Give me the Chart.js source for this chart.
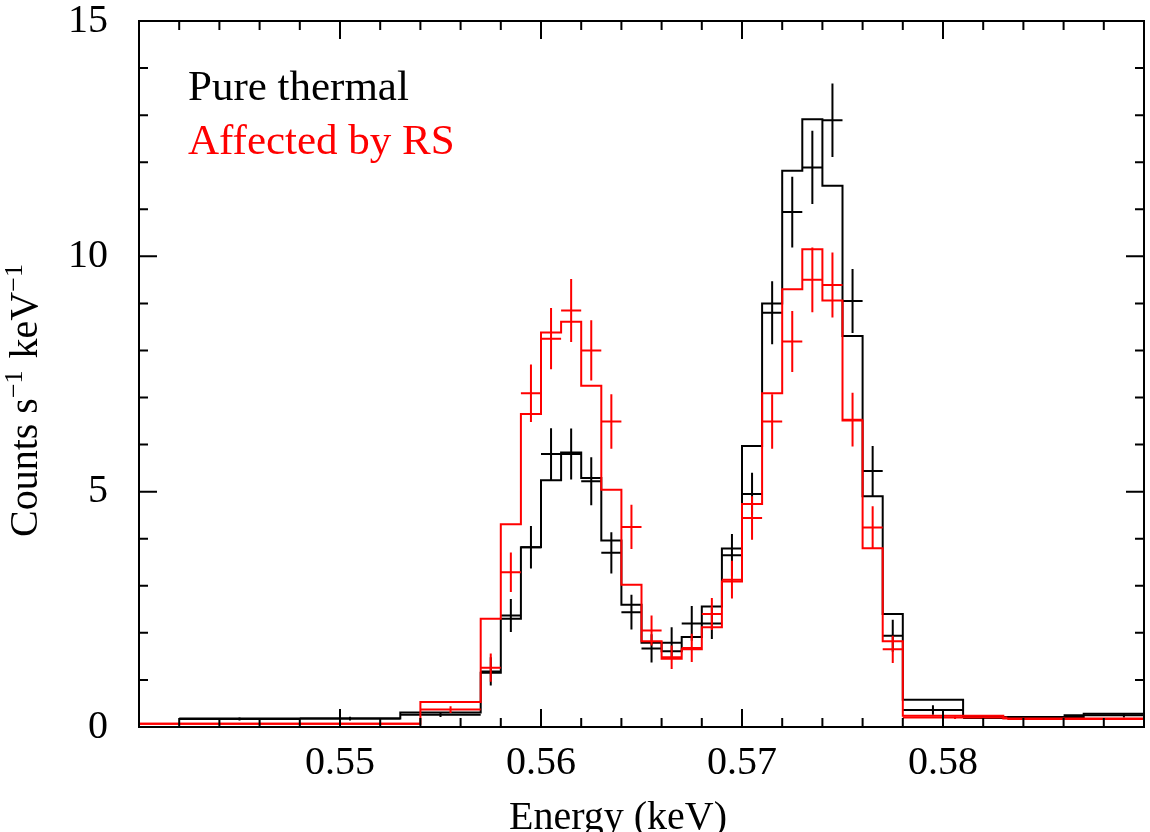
<!DOCTYPE html>
<html>
<head>
<meta charset="utf-8">
<title>Energy spectrum</title>
<script src="https://cdn.jsdelivr.net/npm/chart.js@4.4.1/dist/chart.umd.min.js"></script>
<style>
  html, body { margin: 0; padding: 0; background: #fff; }
  canvas { display: block; }
</style>
</head>
<body>
<canvas id="spectrum" width="1150" height="832"></canvas>
<script>
// model histograms: bin edges (keV) and model level in each bin
const thermalModelEdges = [0.542, 0.553, 0.557, 0.558, 0.559, 0.560, 0.561, 0.562, 0.563, 0.564, 0.565, 0.566, 0.567,
    0.568, 0.569, 0.570, 0.571, 0.572, 0.573, 0.574, 0.575, 0.576, 0.577, 0.578, 0.581, 0.587, 0.592];
const thermalModel = [0.18, 0.31, 1.15, 2.30, 3.82, 5.24, 5.83, 5.29, 3.96, 2.60, 1.79, 1.61, 1.91,
    2.56, 3.79, 5.97, 9.00, 11.82, 12.91, 11.50, 8.31, 4.90, 2.40, 0.58, 0.21, 0.28];

const rsModelEdges = [0.538, 0.554, 0.557, 0.558, 0.559, 0.560, 0.561, 0.562, 0.563, 0.564, 0.565, 0.566, 0.567,
    0.568, 0.569, 0.570, 0.571, 0.572, 0.573, 0.574, 0.575, 0.576, 0.577, 0.578, 0.583, 0.592];
const rsModel = [0.07, 0.53, 2.30, 4.31, 6.65, 8.38, 8.61, 7.25, 5.04, 3.02, 1.82, 1.45, 1.65,
    2.12, 3.09, 4.74, 7.09, 9.30, 10.15, 9.06, 6.51, 3.80, 1.82, 0.24, 0.18];

// data points: bin edges, counts and 1-sigma errors
const thermalDataEdges = [0.542, 0.548, 0.553, 0.557, 0.558, 0.559, 0.560, 0.561, 0.562, 0.563, 0.564, 0.565, 0.566,
    0.567, 0.568, 0.569, 0.570, 0.571, 0.572, 0.573, 0.574, 0.575, 0.576, 0.577, 0.578, 0.581, 0.586, 0.592];
const thermalCounts = [0.17, 0.18, 0.26, 1.18, 2.37, 3.82, 5.80, 5.80, 5.22, 3.70, 2.44, 1.67, 1.79,
    2.20, 2.20, 3.65, 4.95, 8.80, 10.94, 11.89, 12.89, 9.05, 5.44, 1.94, 0.36, 0.19, 0.25];
const thermalErr = [0.03, 0.04, 0.05, 0.30, 0.35, 0.45, 0.55, 0.54, 0.51, 0.44, 0.37, 0.30, 0.33,
    0.37, 0.33, 0.45, 0.45, 0.67, 0.75, 0.78, 0.78, 0.68, 0.53, 0.34, 0.10, 0.04, 0.05];

const rsDataEdges = [0.540, 0.554, 0.557, 0.558, 0.559, 0.560, 0.561, 0.562, 0.563, 0.564, 0.565, 0.566, 0.567,
    0.568, 0.569, 0.570, 0.571, 0.572, 0.573, 0.574, 0.575, 0.576, 0.577, 0.578, 0.5832, 0.592];
const rsCounts = [0.07, 0.37, 1.26, 3.29, 7.09, 8.25, 8.85, 8.00, 6.49, 4.25, 2.05, 1.48, 1.68,
    2.40, 3.13, 4.44, 6.49, 8.19, 9.50, 9.39, 6.53, 4.24, 1.65, 0.20, 0.17];
const rsErr = [0.02, 0.07, 0.30, 0.42, 0.61, 0.65, 0.67, 0.64, 0.58, 0.47, 0.32, 0.25, 0.30,
    0.34, 0.40, 0.46, 0.58, 0.65, 0.69, 0.69, 0.57, 0.45, 0.29, 0.03, 0.02];

const xLabels = [0.55, 0.56, 0.57, 0.58];
const yLabels = [0, 5, 10, 15];

const SERIF = "'Liberation Serif', 'DejaVu Serif', serif";
const RED = '#ff0000';
const BLACK = '#000000';

// histogram outline: one point per left edge, last edge closes the final bin
function stepPoints(edges, levels) {
    return edges.map((e, i) => ({ x: e, y: levels[Math.min(i, levels.length - 1)] }));
}

// error crosses: horizontal bin bar + vertical error bar, separated by gaps
function crossPoints(edges, counts, errs) {
    const pts = [];
    counts.forEach((v, i) => {
        const lo = edges[i], hi = edges[i + 1], mid = (lo + hi) / 2;
        pts.push({ x: lo, y: v }, { x: hi, y: v }, { x: mid, y: null });
        pts.push({ x: mid, y: v - errs[i] }, { x: mid, y: v + errs[i] }, { x: mid, y: null });
    });
    return pts;
}

// frame, inward ticks on all sides, legend text and axis titles
const framePlugin = {
    id: 'frame',
    afterDraw(chart) {
        const { ctx, chartArea: a, scales } = chart;
        const xs = scales.x, ys = scales.y;
        ctx.save();
        ctx.strokeStyle = BLACK;
        ctx.lineWidth = 2;
        ctx.strokeRect(a.left, a.top, a.right - a.left, a.bottom - a.top);

        ctx.beginPath();
        for (let k = 270; k <= 295; k++) {
            const v = k / 500;
            const px = xs.getPixelForValue(v);
            if (px <= a.left + 1 || px >= a.right - 1) continue;
            const len = k % 5 === 0 ? 18 : 9;
            ctx.moveTo(px, a.bottom); ctx.lineTo(px, a.bottom - len);
            ctx.moveTo(px, a.top); ctx.lineTo(px, a.top + len);
        }
        for (let v = 1; v < 15; v++) {
            const py = ys.getPixelForValue(v);
            const len = v % 5 === 0 ? 18 : 9;
            ctx.moveTo(a.left, py); ctx.lineTo(a.left + len, py);
            ctx.moveTo(a.right, py); ctx.lineTo(a.right - len, py);
        }
        ctx.stroke();

        // legend
        ctx.font = '43px ' + SERIF;
        ctx.textAlign = 'left';
        ctx.textBaseline = 'alphabetic';
        ctx.fillStyle = BLACK;
        ctx.fillText('Pure thermal', 188, 100);
        ctx.fillStyle = RED;
        ctx.fillText('Affected by RS', 188, 154);

        // x title
        ctx.fillStyle = BLACK;
        ctx.font = '40px ' + SERIF;
        ctx.textAlign = 'center';
        ctx.fillText('Energy (keV)', 618, 829);

        // y title with superscripts
        ctx.translate(37, 537);
        ctx.rotate(-Math.PI / 2);
        ctx.textAlign = 'left';
        const parts = [['Counts s', false], ['\u22121', true], [' keV', false], ['\u22121', true]];
        let pos = 0;
        parts.forEach(([txt, sup]) => {
            ctx.font = (sup ? '26px ' : '40px ') + SERIF;
            ctx.fillText(txt, pos, sup ? -15 : 0);
            pos += ctx.measureText(txt).width + (sup ? 2 : 0);
        });
        ctx.restore();
    }
};

const datasets = [
    {
        label: 'Pure thermal model',
        data: stepPoints(thermalModelEdges, thermalModel),
        borderColor: BLACK, borderWidth: 2, stepped: 'before', order: 3
    },
    {
        label: 'Pure thermal',
        data: crossPoints(thermalDataEdges, thermalCounts, thermalErr),
        borderColor: BLACK, borderWidth: 2, spanGaps: false, order: 2
    },
    {
        label: 'Affected by RS model',
        data: stepPoints(rsModelEdges, rsModel),
        borderColor: RED, borderWidth: 2, stepped: 'before', order: 1
    },
    {
        label: 'Affected by RS',
        data: crossPoints(rsDataEdges, rsCounts, rsErr),
        borderColor: RED, borderWidth: 2, spanGaps: false, order: 0
    }
];

new Chart(document.getElementById('spectrum'), {
    type: 'line',
    data: { datasets: datasets },
    options: {
        responsive: false,
        animation: false,
        events: [],
        layout: { padding: { top: 21, right: 6, left: 0, bottom: 0 } },
        elements: {
            point: { radius: 0, hoverRadius: 0 },
            line: { tension: 0, fill: false }
        },
        plugins: { legend: { display: false }, tooltip: { enabled: false } },
        scales: {
            x: {
                type: 'linear',
                min: 0.540,
                max: 0.590,
                grid: { display: false, drawTicks: false },
                border: { display: false },
                afterBuildTicks: s => { s.ticks = xLabels.map(v => ({ value: v })); },
                afterFit: s => { s.height = 105; s.paddingLeft = 0; s.paddingRight = 0; },
                ticks: {
                    autoSkip: false,
                    maxRotation: 0,
                    padding: 12,
                    color: BLACK,
                    font: { family: SERIF, size: 40, lineHeight: 1.2 },
                    callback: v => v.toFixed(2)
                }
            },
            y: {
                min: 0,
                max: 15,
                grid: { display: false, drawTicks: false },
                border: { display: false },
                afterBuildTicks: s => { s.ticks = yLabels.map(v => ({ value: v })); },
                afterFit: s => { s.width = 139; s.paddingTop = 0; s.paddingBottom = 0; },
                ticks: {
                    padding: 31,
                    color: BLACK,
                    font: { family: SERIF, size: 40, lineHeight: 1 },
                    callback: v => String(v)
                }
            }
        }
    },
    plugins: [framePlugin]
});
</script>
</body>
</html>
